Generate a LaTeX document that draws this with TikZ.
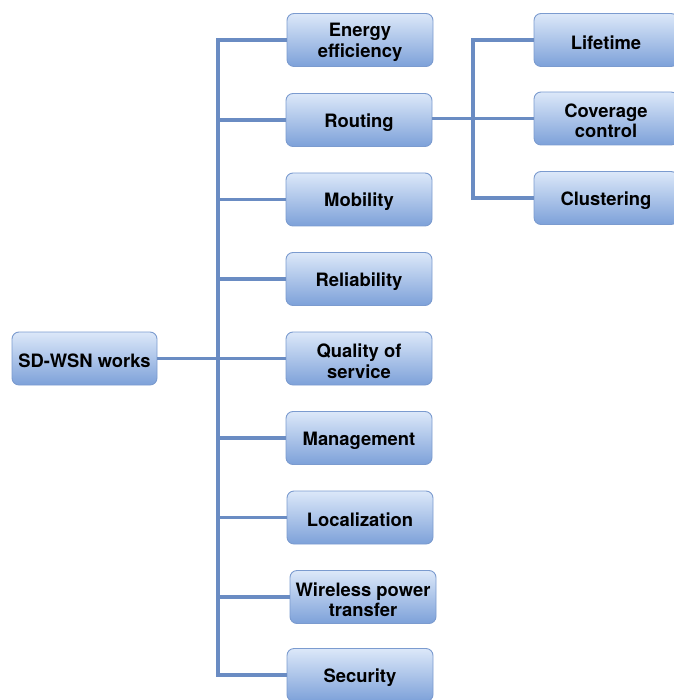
\documentclass[tikz,border=0pt]{standalone}
\usepackage{fontspec}
\setmainfont{TeX Gyre Heros}
\definecolor{linkblue}{HTML}{6A8CC3}
\definecolor{boxtop}{HTML}{DCE8F9}
\definecolor{boxbot}{HTML}{7DA1D9}
\definecolor{boxedge}{HTML}{7B9BCF}
\begin{document}
\begin{tikzpicture}[x=1pt,y=-1pt,
  topictext/.style={align=center, inner sep=0pt, yshift=-2.5pt,
    font=\fontsize{18.4}{20.5}\selectfont\bfseries},
  topic/.style={draw=boxedge, line width=0.9pt, rounded corners=7pt,
    top color=boxtop, bottom color=boxbot,
    minimum width=146pt, minimum height=53pt, inner sep=0pt,
    label={[topictext]center:#1}},
  link/.style={draw=linkblue, line width=3.8pt}]
\useasboundingbox (0,0) rectangle (673,700);

% root
\node[topic={SD-WSN works}, minimum width=145pt] (root) at (84.5,358.5) {};

% first level
\node[topic={Energy\\efficiency}] (ee)   at (360,40)    {};
\node[topic={Routing}]            (rout) at (359,120)   {};
\node[topic={Mobility}]           (mob)  at (359,199.5) {};
\node[topic={Reliability}]        (rel)  at (359,279)   {};
\node[topic={Quality of\\service}] (qos) at (359,358.5) {};
\node[topic={Management}]         (mgmt) at (359,438)   {};
\node[topic={Localization}]       (loc)  at (360,517.5) {};
\node[topic={Wireless power\\transfer}] (wpt) at (363,597) {};
\node[topic={Security}]           (sec)  at (360,675)   {};

% second level under routing
\node[topic={Lifetime}, minimum width=144pt]        (life) at (606,40)    {};
\node[topic={Coverage\\control}, minimum width=144pt] (cov) at (606,118.5) {};
\node[topic={Clustering}, minimum width=144pt]      (clu)  at (606,198)   {};

% connectors
\coordinate (tr) at (218,358.5);
\coordinate (rt) at (473,118.5);
\draw[link] (root.east) -- (tr);
\foreach \c in {ee,rout,mob,rel,qos,mgmt,loc,wpt,sec}
  \draw[link] (tr) |- (\c.west);
\draw[link] (rout.east |- rt) -- (rt);
\foreach \c in {life,cov,clu}
  \draw[link] (rt) |- (\c.west);
\end{tikzpicture}
\end{document}
